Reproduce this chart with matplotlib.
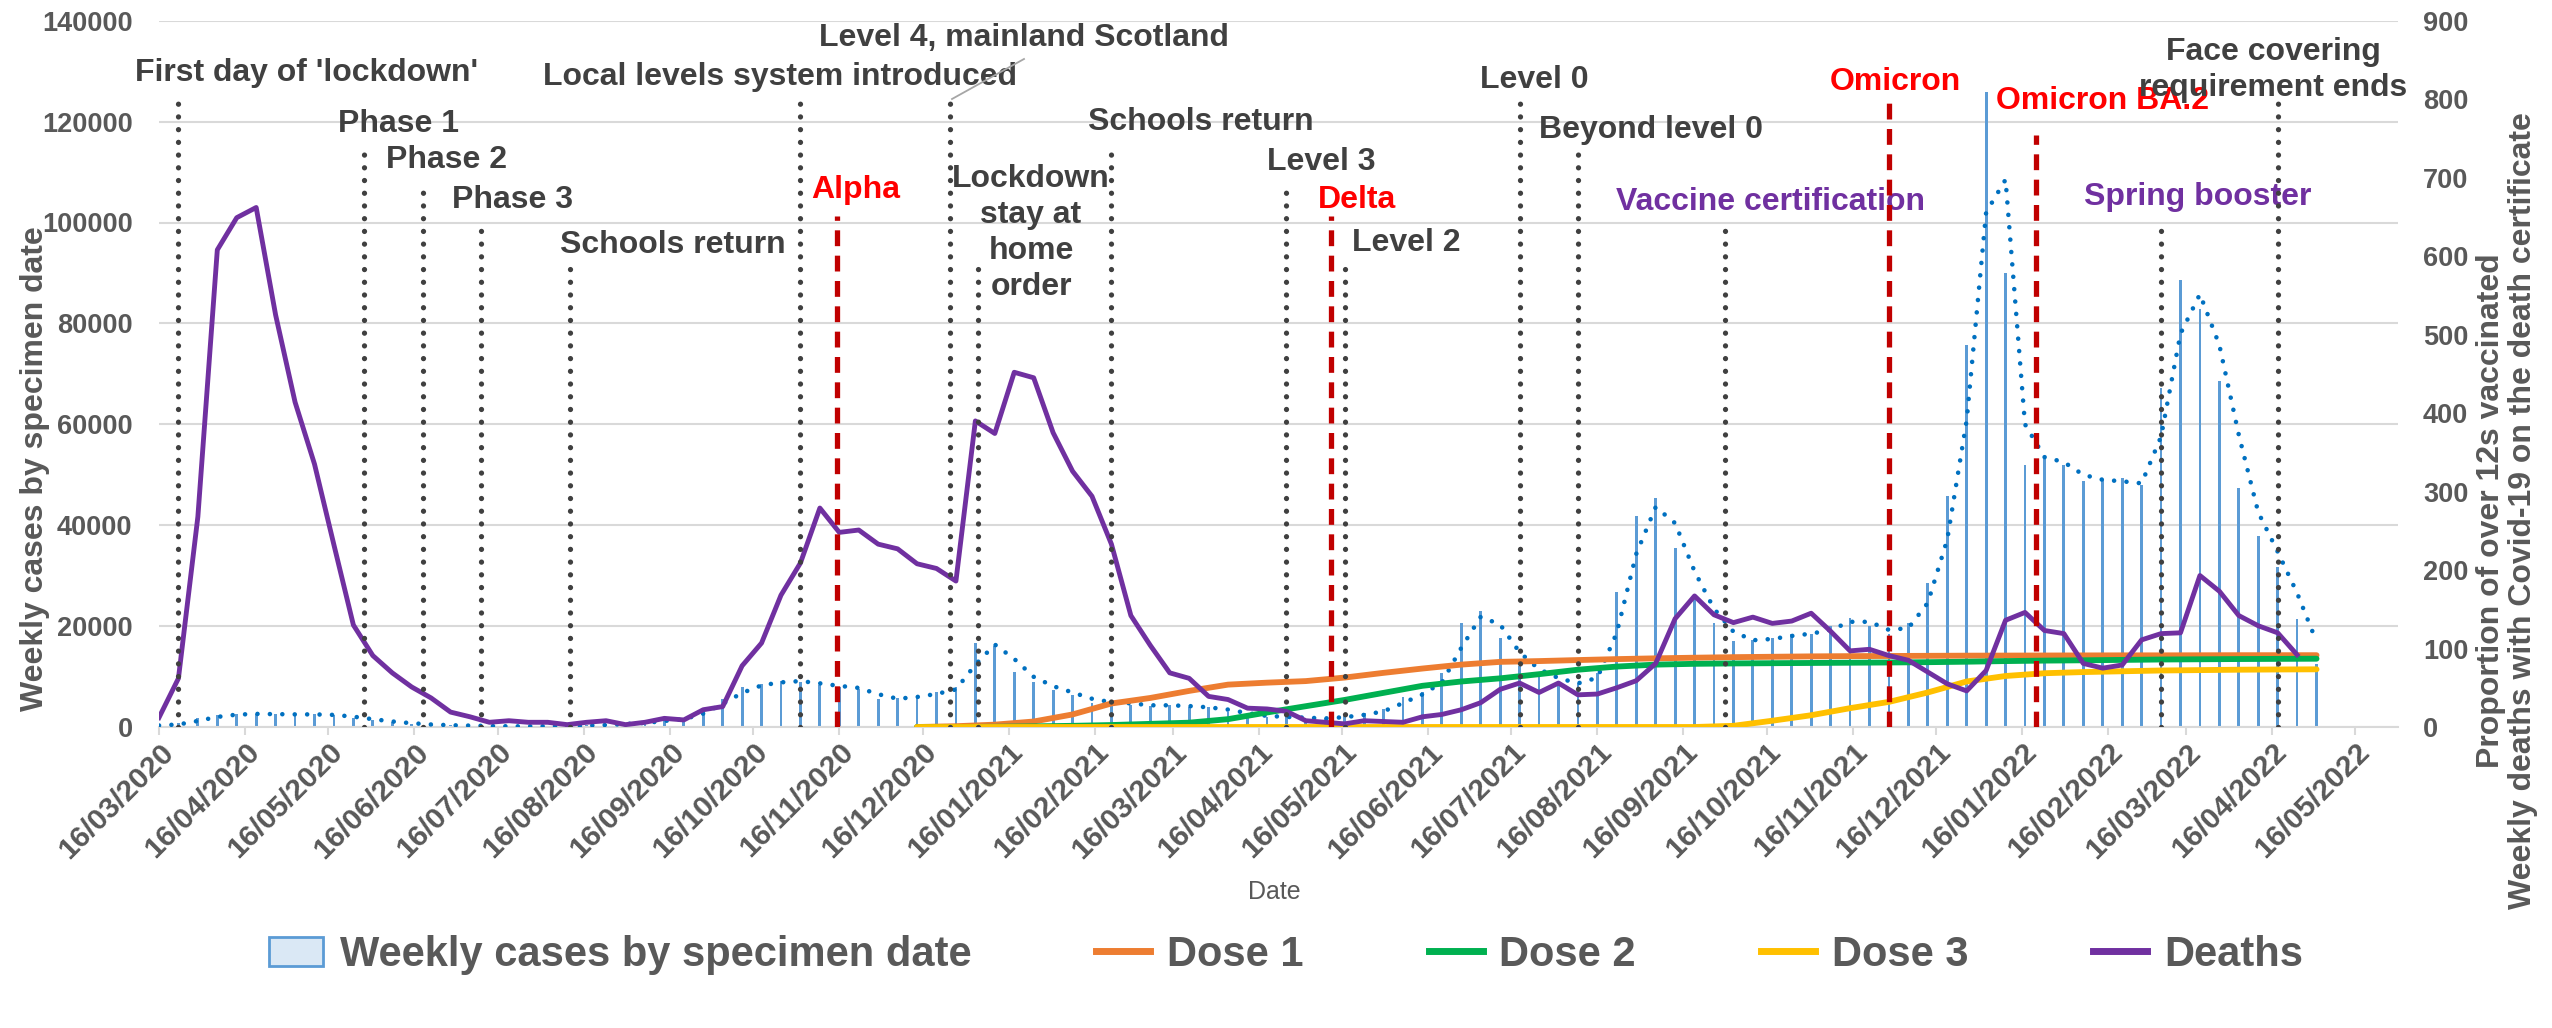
import numpy as np
import pandas as pd
import matplotlib
matplotlib.use("Agg")
import matplotlib.pyplot as plt
import matplotlib.dates as mdates
from matplotlib.patches import Patch
from matplotlib.lines import Line2D

plt.rcParams['font.family'] = ['Liberation Sans', 'DejaVu Sans']
plt.rcParams['font.weight'] = 'bold'

# weekly series, first week starts 16/03/2020
first_week = '2020-03-16'

cases = [300, 700, 1700, 2300, 2600, 2600, 2500, 2500, 2500, 2300, 1800, 1300,
         900, 600, 400, 300, 250, 150, 120, 150, 150, 250, 300, 500,
         700, 900, 1500, 1600, 3700, 5500, 8000, 8500, 9200, 9000, 8300, 8000,
         7500, 5500, 5700, 6200, 6900, 8000, 16700, 16000, 11000, 8900, 7300,
         6400, 4800, 5000, 4400, 4200, 4400, 3900, 3900, 3000, 2500, 1900, 2100,
         1600, 1800, 2100, 2700, 3500, 6000, 6900, 10700, 20700, 23000, 17600,
         12000, 10900, 8500, 8800, 10700, 26700, 41900, 45300, 35500, 26200, 20700,
         17100, 17300, 17600, 18500, 18500, 20000, 21700, 20000, 18500, 20700,
         28500, 45800,
         75800, 125900, 89900, 51900, 53100, 51900, 48800, 49100, 49400, 47900,
         67200, 88700, 82900, 68500, 47300, 37800, 31700, 21400, 12400]

# dotted trend line (2 week moving average)
cases_trend = [300, 500, 1200, 2000, 2450, 2600, 2550, 2500, 2500, 2400, 2050, 1550,
               1100, 750, 500, 350, 275, 200, 135, 135, 150, 200, 275, 400,
               600, 800, 1200, 1550, 2650, 4600, 6750, 8250, 8850, 9100, 8650, 8150,
               7750, 6500, 5600, 5950, 6550, 7450, 12350, 16350, 13500, 9950, 8100,
               6850, 5600, 4900, 4700, 4300, 4300, 4150, 3900, 3450, 2750, 2200, 2000,
               1850, 1700, 1950, 2400, 3100, 4750, 6450, 8800, 15700, 21850, 20300,
               14800, 11450, 9700, 8650, 9750, 18700, 34300, 43600, 40400, 30850, 23450,
               18900, 17200, 17450, 18050, 18500, 19250, 20850, 20850, 19250, 19600,
               24600, 37150,
               60800, 102000, 108500, 60000, 53500, 52500, 50000, 49000, 48700, 48300,
               57550, 77950, 85800, 75700, 57900, 42550, 34750, 26550, 16900]

deaths = [12, 62, 268, 608, 649, 662, 525, 414, 335, 232, 130, 91,
          69, 51, 37, 19, 13, 6, 8, 6, 6, 3, 6, 8,
          3, 6, 11, 9, 22, 26, 78, 107, 168, 209, 279, 248,
          251, 233, 227, 208, 202, 186, 390, 374, 452, 445, 375,
          326, 294, 233, 142, 104, 69, 62, 39, 35, 24, 23,
          20, 8, 6, 4, 8, 7, 6, 13, 16, 22, 31, 48,
          56, 44, 56, 41, 42, 50, 59, 81, 138, 167, 143, 133,
          140, 132, 135, 145, 122, 97, 99, 91, 85, 70, 55,
          46, 72, 136, 146, 123, 119, 81, 75, 79, 111, 119, 120,
          193, 173, 142, 129, 120, 92]

dose_dates = ['2020-12-14', '2020-12-28', '2021-01-11', '2021-01-25', '2021-02-08',
              '2021-02-22', '2021-03-08', '2021-03-22', '2021-04-05', '2021-04-19',
              '2021-05-03', '2021-05-17', '2021-05-31', '2021-06-14', '2021-06-28',
              '2021-07-12', '2021-07-26', '2021-08-09', '2021-08-23', '2021-09-06',
              '2021-09-20', '2021-10-04', '2021-10-18', '2021-11-01', '2021-11-15',
              '2021-11-29', '2021-12-13', '2021-12-27', '2022-01-10', '2022-01-24',
              '2022-02-07', '2022-02-21', '2022-03-07', '2022-03-21', '2022-04-04',
              '2022-04-18', '2022-05-02']
dose1 = [0, 1, 3, 7, 16, 30, 37, 46, 54, 56.5, 58.5, 63, 69, 74.5, 79.5, 83, 84,
         85.3, 86.5, 87.5, 88.3, 89, 89.5, 90, 90.3, 90.5, 90.7, 90.9, 91, 91.1,
         91.2, 91.3, 91.3, 91.4, 91.5, 91.5, 91.5]
dose2 = [0, 0, 0.3, 0.8, 1.5, 2.5, 4, 5.5, 10, 18.5, 26.5, 34.5, 43.5, 52.5, 58,
         62, 67.3, 73, 77, 79.5, 80.5, 81, 81.3, 81.6, 81.9, 82.2, 82.6, 83.2, 84,
         84.6, 85, 85.5, 86, 86.3, 86.6, 86.8, 87]
dose3 = [0] * 21 + [1.5, 8, 15, 24, 32, 44, 58, 65, 68.5, 70, 71, 72, 72.5, 73,
                    73.3, 73.5]

# (label, date, kind)
events = [
    ("First day of 'lockdown'", '2020-03-23', 'policy'),
    ("Phase 1", '2020-05-29', 'policy'),
    ("Phase 2", '2020-06-19', 'policy'),
    ("Phase 3", '2020-07-10', 'policy'),
    ("Schools return", '2020-08-11', 'policy'),
    ("Local levels system introduced", '2020-11-02', 'policy'),
    ("Alpha", '2020-11-15', 'variant'),
    ("Level 4, mainland Scotland", '2020-12-26', 'policy'),
    ("Lockdown\nstay at\nhome\norder", '2021-01-05', 'policy'),
    ("Schools return", '2021-02-22', 'policy'),
    ("Level 3", '2021-04-26', 'policy'),
    ("Delta", '2021-05-12', 'variant'),
    ("Level 2", '2021-05-17', 'policy'),
    ("Level 0", '2021-07-19', 'policy'),
    ("Beyond level 0", '2021-08-09', 'policy'),
    ("Vaccine certification", '2021-10-01', 'vaccine'),
    ("Omicron", '2021-11-29', 'variant'),
    ("Omicron BA.2", '2022-01-21', 'variant'),
    ("Spring booster", '2022-03-07', 'vaccine'),
    ("Face covering\nrequirement ends", '2022-04-18', 'policy'),
]
# layout in reference pixels: text centre x, text centre y, top of marker line
event_layout = [
    (307, 73, 98), (399, 124, 149), (446, 160, 186), (512, 200, 222.6),
    (673, 245, 259), (780, 77, 98), (856, 190, 215.7), (1024, 38, 98),
    (1031, 233, 259), (1201, 122, 149), (1321, 162, 186), (1357, 200, 215.7),
    (1406, 243, 259), (1534, 80, 98), (1651, 130, 149), (1770, 202, 222.6),
    (1895, 82, 96), (2103, 101, 135), (2198, 197, 222.6), (2273, 70, 98),
]
text_colors = {'policy': '#404040', 'variant': '#FF0000', 'vaccine': '#7030A0'}

W, H = 2552, 1028
AX_L, AX_R, AX_T, AX_B = 159, 2398, 20.7, 727


def fx(x):
    return x / W


def fy(y):
    return 1 - y / H


grey = '#595959'
weeks = pd.date_range(first_week, periods=len(cases), freq='7D')
dd = pd.to_datetime(dose_dates)

fig = plt.figure(figsize=(W / 100, H / 100), dpi=100)
ax = fig.add_axes([fx(AX_L), fy(AX_B), (AX_R - AX_L) / W, (AX_B - AX_T) / H])
ax2 = ax.twinx()

ax.bar(weeks, cases, width=1.0, color='#5B9BD5', linewidth=0, zorder=2)
ax.plot(weeks, cases_trend, color='#0070C0', lw=3.3, linestyle=(0, (0.01, 2.7)),
        dash_capstyle='round', zorder=3)

ax2.plot(dd, dose1, color='#ED7D31', lw=4.2, solid_capstyle='round', zorder=2)
ax2.plot(dd, dose2, color='#00B050', lw=4.2, solid_capstyle='round', zorder=2)
ax2.plot(dd, dose3, color='#FFC000', lw=4.2, solid_capstyle='round', zorder=2)
ax2.plot(weeks[:len(deaths)], deaths, color='#7030A0', lw=3.5,
         solid_joinstyle='round', zorder=3)

for (label, date, kind), (tx, ty, top) in zip(events, event_layout):
    ax2.text(fx(tx), fy(ty), label, transform=fig.transFigure, ha='center',
             va='center', fontsize=23, color=text_colors[kind], linespacing=1.25,
             zorder=4)
    frac = (AX_B - top) / (AX_B - AX_T)
    if kind == 'variant':
        ax2.axvline(pd.Timestamp(date), ymin=0, ymax=frac, color='#C00000', lw=3.8,
                    linestyle=(0, (3.0, 1.8)), zorder=5)
    else:
        ax2.axvline(pd.Timestamp(date), ymin=0, ymax=frac, color='#404040', lw=3.8,
                    linestyle=(0, (0.01, 2.4)), dash_capstyle='round', zorder=5)

# leader line for the Level 4 label
ax2.add_line(Line2D([fx(1024), fx(952)], [fy(59), fy(99)], transform=fig.transFigure,
                    color='#A6A6A6', lw=1.3, zorder=4))

ax.set_xlim(pd.Timestamp('2020-03-16'), pd.Timestamp('2022-05-31 08:00'))
ax.set_ylim(0, 140000)
ax.set_yticks(np.arange(0, 140001, 20000))
ax2.set_ylim(0, 900)
ax2.set_yticks(np.arange(0, 901, 100))

ax.xaxis.set_major_locator(mdates.MonthLocator(bymonthday=16))
ax.xaxis.set_major_formatter(mdates.DateFormatter('%d/%m/%Y'))
ax.tick_params(axis='x', length=6, width=1.5, color='#D9D9D9', labelsize=21.5,
               labelcolor=grey, pad=2)
for lab in ax.get_xticklabels():
    lab.set_rotation(45)
    lab.set_ha('right')
    lab.set_va('top')
    lab.set_rotation_mode('anchor')
ax.tick_params(axis='y', length=0, labelsize=19.5, labelcolor=grey, pad=19)
ax2.tick_params(axis='y', length=0, labelsize=19.5, labelcolor=grey, pad=18)

ax.grid(axis='y', color='#D9D9D9', lw=1.5, zorder=0)
ax.set_axisbelow(True)
for s in ['top', 'left', 'right']:
    ax.spines[s].set_visible(False)
ax.spines['bottom'].set_color('#D9D9D9')
ax.spines['bottom'].set_linewidth(1.5)
for s in ax2.spines.values():
    s.set_visible(False)

fig.text(fx(35), fy(469), 'Weekly cases by specimen date', rotation=90,
         ha='center', va='center', fontsize=23, color=grey)
fig.text(fx(2507), fy(511),
         'Proportion of over 12s vaccinated\nWeekly deaths with Covid-19 on the death certificate',
         rotation=90, ha='center', va='center', multialignment='center',
         fontsize=23, color=grey, linespacing=1.1)
fig.text(fx(1274), fy(892), 'Date', ha='center', va='center', fontsize=18,
         fontweight='normal', color=grey)

handles = [Patch(facecolor='#DAE8F5', edgecolor='#5B9BD5', lw=2),
           Line2D([], [], color='#ED7D31', lw=5),
           Line2D([], [], color='#00B050', lw=5),
           Line2D([], [], color='#FFC000', lw=5),
           Line2D([], [], color='#7030A0', lw=5)]
labels = ['Weekly cases by specimen date', 'Dose 1', 'Dose 2', 'Dose 3', 'Deaths']
fig.legend(handles, labels, loc='center', bbox_to_anchor=(fx(1286), fy(955)),
           ncol=5, frameon=False, fontsize=30, handlelength=1.3,
           handletextpad=0.4, columnspacing=3.0, labelcolor=grey)

fig.savefig('out.png', dpi=100)
